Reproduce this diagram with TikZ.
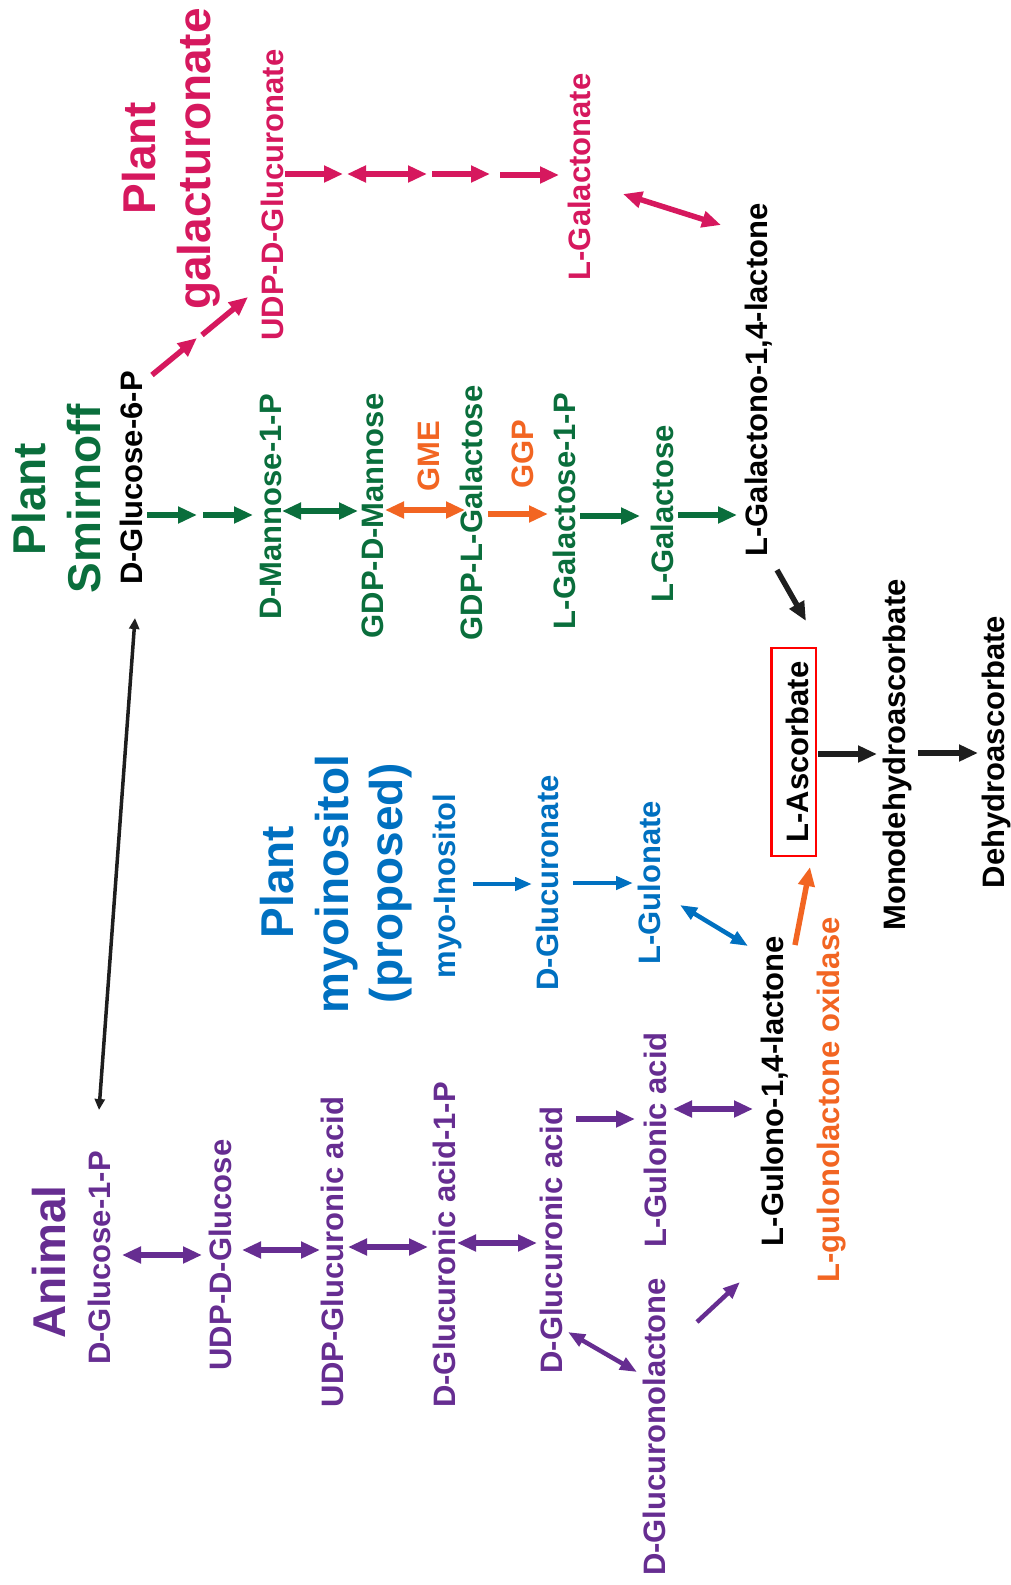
\documentclass[tikz,border=0pt]{standalone}
\usepackage{fontspec}
\setmainfont{Liberation Sans}
\usetikzlibrary{arrows.meta}
\definecolor{crim}{RGB}{214,24,94}
\definecolor{grn}{RGB}{10,110,60}
\definecolor{org}{RGB}{242,101,34}
\definecolor{blu}{RGB}{0,112,192}
\definecolor{pur}{RGB}{102,45,145}
\definecolor{blk}{RGB}{30,30,30}
\begin{document}
\begin{tikzpicture}[x=1pt,y=-1pt,
  lbl/.style={rotate=90,anchor=base,inner sep=0pt,font=\fontsize{31}{37}\selectfont\bfseries},
  ttl/.style={rotate=90,anchor=base,inner sep=0pt,font=\fontsize{46}{55}\selectfont\bfseries},
  fw/.style={line width=5.5pt,-{Triangle[length=19pt,width=16pt]}},
  bw/.style={line width=5.5pt,{Triangle[length=19pt,width=16pt]}-{Triangle[length=19pt,width=16pt]}},
  fwt/.style={line width=4.5pt,-{Triangle[length=17pt,width=13pt]}},
  bwt/.style={line width=4.5pt,{Triangle[length=17pt,width=13pt]}-{Triangle[length=17pt,width=13pt]}},
]
\useasboundingbox (0,0) rectangle (1011,1585);

% ---- Plant galacturonate
\node[ttl,crim] (tgal1) at (155,158) {Plant};
\node[ttl,crim] (tgal2) at (210,159) {galacturonate};
\node[lbl,crim] (udpglcA) at (283,195) {UDP-D-Glucuronate};
\node[lbl,crim] (lgalA) at (590,177) {L-Galactonate};

% ---- Plant Smirnoff
\node[ttl,grn] (tsm1) at (45,499) {Plant};
\node[ttl,grn] (tsm2) at (100,499) {Smirnoff};
\node[lbl,black] (g6p) at (142,478) {D-Glucose-6-P};
\node[lbl,grn] (man1p) at (281,507) {D-Mannose-1-P};
\node[lbl,grn] (gdpman) at (383,516) {GDP-D-Mannose};
\node[lbl,org] (gme) at (439,456) {GME};
\node[lbl,grn] (gdpgal) at (482,513) {GDP-L-Galactose};
\node[lbl,org] (ggp) at (533,454) {GGP};
\node[lbl,grn] (gal1p) at (575,511) {L-Galactose-1-P};
\node[lbl,grn] (lgal) at (673,514) {L-Galactose};
\node[lbl,black] (galL) at (767,380) {L-Galactono-1,4-lactone};

% ---- Plant myoinositol
\node[ttl,blu] (tmy1) at (293,882) {Plant};
\node[ttl,blu] (tmy2) at (348,884) {myoinositol};
\node[ttl,blu] (tmy3) at (402,883) {(proposed)};
\node[lbl,blu] (myo) at (455,886) {myo-Inositol};
\node[lbl,blu] (dglcA) at (558,883) {D-Glucuronate};
\node[lbl,blu] (lgulA) at (660,883) {L-Gulonate};

% ---- Ascorbate
\node[lbl,black,draw=red,line width=2.5pt,inner xsep=13.5pt,inner ysep=8pt,text height=28.5pt,text depth=0pt] (asc) at (808,752) {L-Ascorbate};
\node[lbl,black] (mdha) at (905,755) {Monodehydroascorbate};
\node[lbl,black] (dha) at (1004,752) {Dehydroascorbate};
\node[lbl,black] (gulL) at (783,1091) {L-Gulono-1,4-lactone};
\node[lbl,org] (gulo) at (839,1100) {L-gulonolactone oxidase};

% ---- Animal
\node[ttl,pur] (tan) at (65,1262) {Animal};
\node[lbl,pur] (g1p) at (110,1258) {D-Glucose-1-P};
\node[lbl,pur] (udpg) at (231,1255) {UDP-D-Glucose};
\node[lbl,pur] (udpgA) at (343,1252) {UDP-Glucuronic acid};
\node[lbl,pur] (gA1p) at (455,1245) {D-Glucuronic acid-1-P};
\node[lbl,pur] (gA) at (562,1240) {D-Glucuronic acid};
\node[lbl,pur] (lgulac) at (666,1140) {L-Gulonic acid};
\node[lbl,pur] (glcl) at (665,1427) {D-Glucuronolactone};

% ---- arrows: galacturonate
\draw[fw,crim] (152,375) -- (197,338);
\draw[fw,crim] (202,335) -- (248,297);
\draw[fw,crim] (285,174) -- (343,174);
\draw[bw,crim] (347,174) -- (427,174);
\draw[fw,crim] (432,174) -- (490,174);
\draw[fw,crim] (500,175) -- (559,175);
\draw[bw,crim] (623,194) -- (721,225);

% ---- arrows: Smirnoff
\draw[fw,grn] (147,515) -- (197,515);
\draw[fw,grn] (203,515) -- (253,515);
\draw[bw,grn] (282,511) -- (358,511);
\draw[bw,org] (385,510) -- (465,510);
\draw[fw,org] (488,514) -- (548,514);
\draw[fw,grn] (580,516) -- (640,516);
\draw[fw,grn] (678,515) -- (737,515);
\draw[fw,blk] (777,570) -- (806,621);

% ---- arrows: ascorbate
\draw[fw,blk] (818,754) -- (877,754);
\draw[fw,blk] (918,753) -- (978,753);
\draw[line width=3.5pt,blk,{Triangle[length=11pt,width=10pt]}-{Triangle[length=11pt,width=10pt]}] (99,1110) -- (135,618);

% ---- arrows: myoinositol
\draw[fwt,blu] (473,884) -- (532,884);
\draw[fwt,blu] (573,883) -- (633,883);
\draw[bwt,blu] (680,905) -- (748,946);
\draw[fw,org] (795,945) -- (810,867);

% ---- arrows: animal
\draw[bw,pur] (122,1255) -- (202,1255);
\draw[bw,pur] (242,1250) -- (320,1250);
\draw[bw,pur] (348,1247) -- (428,1247);
\draw[bw,pur] (457,1243) -- (537,1243);
\draw[fw,pur] (576,1119) -- (635,1119);
\draw[bw,pur] (673,1109) -- (753,1109);
\draw[bwt,pur] (568,1332) -- (637,1372);
\draw[fwt,pur] (697,1322) -- (740,1282);
\end{tikzpicture}
\end{document}
